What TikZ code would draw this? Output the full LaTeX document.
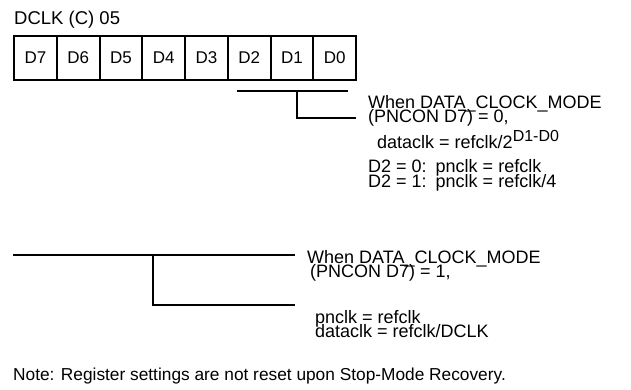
\documentclass[tikz,border=0pt]{standalone}
\usepackage{fontspec}
\setmainfont{Liberation Sans}
\usetikzlibrary{positioning}
\newcommand{\regfont}{\fontsize{17}{13}\selectfont}
\newcommand{\sidefont}{\fontsize{18}{13}\selectfont}
\newcommand{\supfont}{\fontsize{16}{13}\selectfont}
\newcommand{\expo}[1]{\raisebox{6.5pt}{\supfont #1}}

\begin{document}
\begin{tikzpicture}[x=1pt,y=-1pt,
  bitcell/.style={draw,line width=2pt,minimum width=42.75pt,minimum height=44pt,inner sep=0pt,font=\regfont},
  rule/.style={line width=2.4pt},
  txt/.style={anchor=base west,inner sep=0pt,font=\sidefont}]
\useasboundingbox (0,0) rectangle (631,389);
\node[txt,font=\fontsize{18.5}{13}\selectfont] (title) at (14,24.5) {DCLK (C) 05};
\foreach \b/\i in {7/0,6/1,5/2,4/3,3/4,2/5,1/6,0/7}{\node[bitcell] (d\b) at (35.375+42.75*\i,58) {D\b};}
% D2-D0 field
\coordinate (fa) at (237,91);
\coordinate (fb) at (348,91);
\coordinate (fc) at (297,91);
\coordinate (fd) at (297,118);
\coordinate (fe) at (356,118);
\draw[rule] (fa) -- (fb);
\draw[rule] (fc) -- (fd) -- (fe);
\node[txt] (w0) at (368,108) {When DATA\_CLOCK\_MODE};
\node[txt] (p0) at (368,122.5) {(PNCON D7) = 0,};
\node[txt] (dc0) at (377,148) {dataclk = refclk/2\expo{D1-D0}};
\node[txt] (s0) at (368,172.5) {D2 = 0:\enspace pnclk = refclk};
\node[txt] (s1) at (368,187) {D2 = 1:\enspace pnclk = refclk/4};
% full register field
\coordinate (ga) at (13,255);
\coordinate (gb) at (295,255);
\coordinate (gc) at (153,255);
\coordinate (gd) at (153,305);
\coordinate (ge) at (295,305);
\draw[rule] (ga) -- (gb);
\draw[rule] (gc) -- (gd) -- (ge);
\node[txt] (w1) at (307,263) {When DATA\_CLOCK\_MODE};
\node[txt] (p1) at (310,277.5) {(PNCON D7) = 1,};
\node[txt] (pn) at (315,323) {pnclk = refclk};
\node[txt] (dc1) at (315,337.5) {dataclk = refclk/DCLK};
\node[txt,font=\fontsize{17.3}{13}\selectfont] (nt) at (13,380) {Note: Register settings are not reset upon Stop-Mode Recovery.};
\end{tikzpicture}
\end{document}
